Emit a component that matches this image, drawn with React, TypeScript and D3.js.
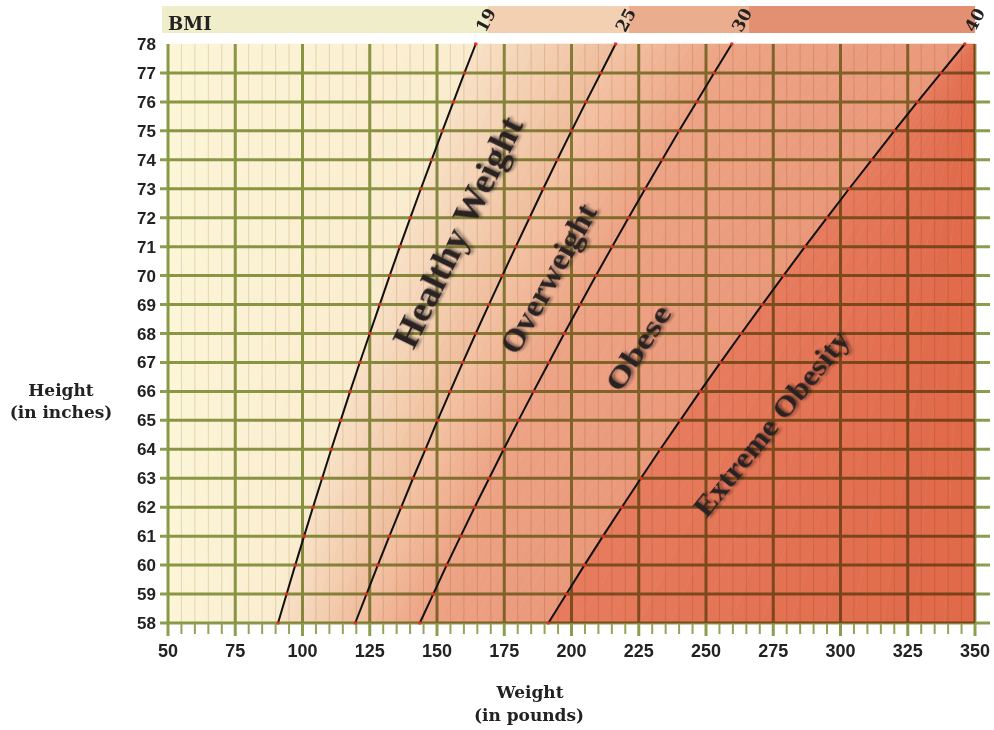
import React from 'react';
import * as d3 from 'd3';

// ---------- data ----------
const heights = [58, 59, 60, 61, 62, 63, 64, 65, 66, 67, 68, 69, 70, 71, 72, 73, 74, 75, 76, 77, 78];
const weightTicks = [50, 75, 100, 125, 150, 175, 200, 225, 250, 275, 300, 325, 350];
const bmiLabels = ['19', '25', '30', '40'];
// weight (lb) of each BMI boundary line at each height above
const bmi19 = [90.9, 94.1, 97.3, 100.6, 103.9, 107.3, 110.7, 114.2, 117.7, 121.3, 125.0, 128.7, 132.4, 136.2, 140.1, 144.0, 148.0, 152.0, 156.1, 160.2, 164.4];
const bmi25 = [119.6, 123.8, 128.0, 132.3, 136.7, 141.1, 145.7, 150.2, 154.9, 159.6, 164.4, 169.3, 174.3, 179.3, 184.4, 189.5, 194.7, 200.0, 205.4, 210.9, 216.4];
const bmi30 = [143.6, 148.6, 153.6, 158.8, 164.0, 169.4, 174.8, 180.3, 185.9, 191.6, 197.3, 203.2, 209.1, 215.1, 221.2, 227.4, 233.7, 240.0, 246.5, 253.0, 259.6];
const bmi40 = [191.4, 198.1, 204.8, 211.7, 218.7, 225.8, 233.0, 240.4, 247.8, 255.4, 263.1, 270.9, 278.8, 286.8, 295.0, 303.2, 311.6, 320.0, 328.6, 337.4, 346.2];
const bandNames = ['Healthy Weight', 'Overweight', 'Obese', 'Extreme Obesity'];
const bandLabelWeight = [157.8, 191.3, 224.7, 274.2];
const bandLabelHeight = [71.5, 69.9, 67.5, 64.9];

// ---------- styling ----------
const W = 994, H = 730;
const x = d3.scaleLinear().domain([50, 350]).range([168, 975]);
const y = d3.scaleLinear().domain([58, 78]).range([623, 44]);

const bandColors: [string, string][] = [
  ['#fcf5d8', '#faeccf'],
  ['#f8e1c7', '#efbd9c'],
  ['#f3c3a4', '#eca384'],
  ['#eda385', '#ea987a'],
  ['#e67c5e', '#e06949'],
];
const barColors = ['#efedca', '#f3d0b2', '#eaae8f', '#e38f72'];
const labelAngles = [-64, -61, -57, -51];
const labelLengths = [252, 166, 96, 230];
const labelSizes = [36, 31, 29, 29];

const lines = [bmi19, bmi25, bmi30, bmi40];
const leftEdge = heights.map(() => 50);
const rightEdge = heights.map(() => 350);
const bounds = [leftEdge, bmi19, bmi25, bmi30, bmi40, rightEdge];

export default function App() {
  const strips: { d: string; c: string }[] = [];
  const N = 14;
  for (let b = 0; b < 5; b++) {
    const L = bounds[b], R = bounds[b + 1];
    const interp = d3.interpolateRgb(bandColors[b][0], bandColors[b][1]);
    for (let k = 0; k < N; k++) {
      const t0 = k / N, t1 = (k + 1) / N;
      const area = d3.area<number>()
        .y((h) => y(h))
        .x0((_, i) => x(L[i] + (R[i] - L[i]) * t0))
        .x1((_, i) => x(L[i] + (R[i] - L[i]) * t1));
      strips.push({ d: area(heights) as string, c: interp((k + 0.5) / N) });
    }
  }
  const lineGen = d3.line<number>().x((w) => x(w)).y((_, i) => y(heights[i]));

  const minorW = d3.range(50, 351, 5).filter((w) => w % 25 !== 0);

  const topX = lines.map((l) => x(l[l.length - 1]));
  const barStops = [162, topX[0] + 12, topX[1] + 13, topX[2] + 17, x(350)];

  return (
    <svg width={W} height={H} style={{ position: 'absolute', left: 0, top: 0, background: '#fff' }}>
      <defs>
        <filter id="sh" x="-20%" y="-20%" width="140%" height="140%">
          <feDropShadow dx="2" dy="2" stdDeviation="1.4" floodColor="#000" floodOpacity="0.5" />
        </filter>
      </defs>

      {/* top BMI bar */}
      {barColors.map((c, i) => (
        <rect key={'bar' + i} x={barStops[i]} y={6} width={barStops[i + 1] - barStops[i]} height={27} fill={c} />
      ))}
      <text x={168} y={30} fontFamily="DejaVu Serif" fontWeight="bold" fontSize={18} fill="#222">BMI</text>
      {bmiLabels.map((t, i) => (
        <text key={'bl' + i} transform={`translate(${topX[i] + 10},${20}) rotate(-62)`} textAnchor="middle"
          dominantBaseline="central" fontFamily="DejaVu Serif" fontWeight="bold" fontSize={17} fill="#222">{t}</text>
      ))}

      {/* band fills */}
      {strips.map((s, i) => (
        <path key={'s' + i} d={s.d} fill={s.c} stroke={s.c} strokeWidth={0.6} />
      ))}

      {/* grid */}
      <g style={{ mixBlendMode: 'multiply' }}>
        {minorW.map((w) => (
          <line key={'mv' + w} x1={x(w)} x2={x(w)} y1={y(78)} y2={y(58)} stroke="#d2c4a2" strokeOpacity={0.5} strokeWidth={1} />
        ))}
        {heights.filter((h) => h < 78).map((h) => (
          <line key={'h' + h} x1={160} x2={990} y1={y(h)} y2={y(h)} stroke="#8b9d50" strokeWidth={3} />
        ))}
        {weightTicks.map((w) => (
          <line key={'v' + w} x1={x(w)} x2={x(w)} y1={y(78)} y2={y(58) + 13} stroke="#8b9d50" strokeWidth={3} />
        ))}
        {minorW.map((w) => (
          <line key={'t' + w} x1={x(w)} x2={x(w)} y1={y(58)} y2={y(58) + 11} stroke="#93a458" strokeWidth={2} />
        ))}
      </g>

      {/* BMI lines */}
      {lines.map((l, i) => (
        <g key={'l' + i}>
          <path d={lineGen(l) as string} fill="none" stroke="#111" strokeWidth={2} />
          {l.map((w, j) => (
            <circle key={j} cx={x(w)} cy={y(heights[j])} r={1.8} fill="#e2321e" />
          ))}
        </g>
      ))}

      {/* band labels */}
      {bandNames.map((n, i) => (
        <text key={'n' + i}
          transform={`translate(${x(bandLabelWeight[i])},${y(bandLabelHeight[i])}) rotate(${labelAngles[i]})`}
          textAnchor="middle" dominantBaseline="central" fontFamily="Liberation Serif" fontWeight="bold"
          fontSize={labelSizes[i]} textLength={labelLengths[i]} lengthAdjust="spacingAndGlyphs"
          fill="#2a2222" filter="url(#sh)">{n}</text>
      ))}

      {/* y tick labels */}
      {heights.map((h) => (
        <text key={'yl' + h} x={156} y={y(h) + 6} textAnchor="end" fontFamily="Liberation Sans" fontWeight="bold"
          fontSize={17} fill="#222">{h}</text>
      ))}
      {/* x tick labels */}
      {weightTicks.map((w) => (
        <text key={'xl' + w} x={x(w)} y={657} textAnchor="middle" fontFamily="Liberation Sans" fontWeight="bold"
          fontSize={18} fill="#222">{w}</text>
      ))}

      {/* axis titles */}
      <text x={61} y={396} textAnchor="middle" fontFamily="DejaVu Serif" fontWeight="bold" fontSize={17} fill="#222">Height</text>
      <text x={61} y={418} textAnchor="middle" fontFamily="DejaVu Serif" fontWeight="bold" fontSize={17} fill="#222">(in inches)</text>
      <text x={530} y={698} textAnchor="middle" fontFamily="DejaVu Serif" fontWeight="bold" fontSize={17} fill="#222">Weight</text>
      <text x={529} y={721} textAnchor="middle" fontFamily="DejaVu Serif" fontWeight="bold" fontSize={17} fill="#222">(in pounds)</text>
    </svg>
  );
}
